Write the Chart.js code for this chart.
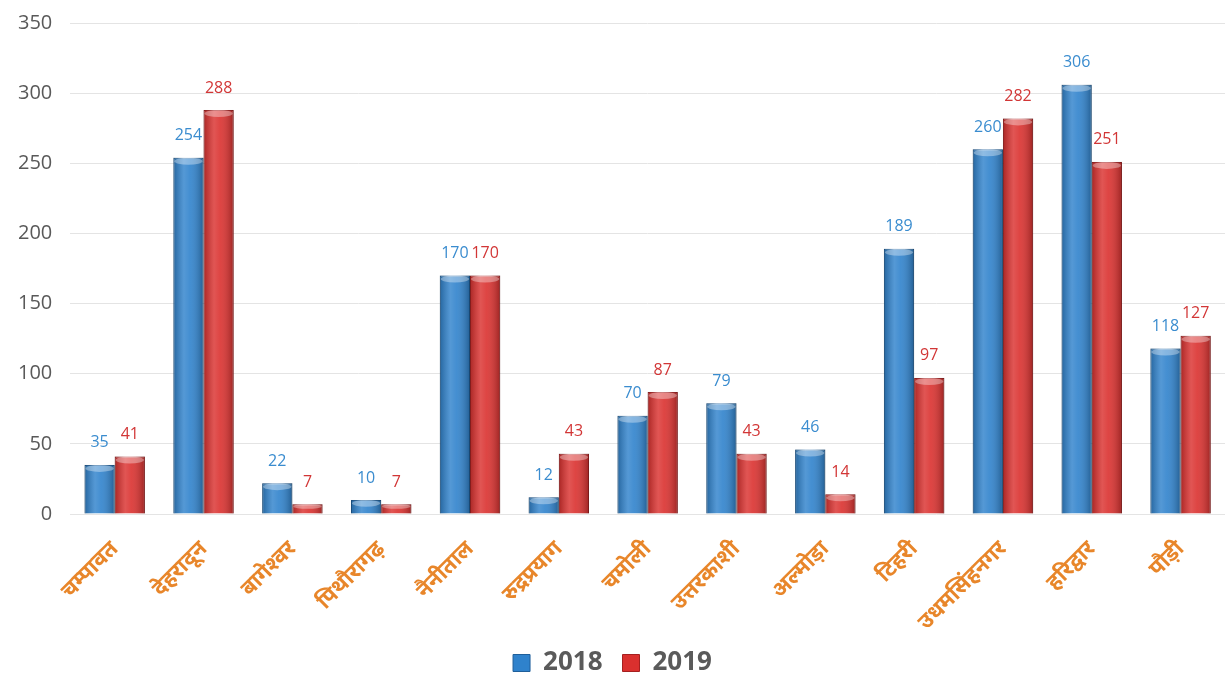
<!DOCTYPE html>
<html>
<head>
<meta charset="utf-8">
<script src="https://cdn.jsdelivr.net/npm/chart.js@4"></script>
<style>
  html, body { margin: 0; padding: 0; background: #fff; }
  #wrap { width: 1227px; height: 679px; }
</style>
</head>
<body>
<div id="wrap"><canvas id="districts"></canvas></div>
<script>
const districts = ['चम्पावत', 'देहरादून', 'बागेश्वर', 'पिथौरागढ़', 'नैनीताल', 'रुद्रप्रयाग', 'चमोली',
  'उत्तरकाशी', 'अल्मोड़ा', 'टिहरी', 'उधमसिंहनगर', 'हरिद्वार', 'पौड़ी'];
const values2018 = [35, 254, 22, 10, 170, 12, 70, 79, 46, 189, 260, 306, 118];
const values2019 = [41, 288, 7, 7, 170, 43, 87, 43, 14, 97, 282, 251, 127];
const yTicks = [0, 50, 100, 150, 200, 250, 300, 350];

const blue = '#2f82cc';
const red = '#da302e';

// glossy cylinder shading on top of every bar
const barShade = {
  id: 'barShade',
  afterDatasetsDraw(chart) {
    const ctx = chart.ctx;
    chart.data.datasets.forEach((ds, i) => {
      chart.getDatasetMeta(i).data.forEach(bar => {
        const { x, y, base, width } = bar.getProps(['x', 'y', 'base', 'width'], true);
        const left = x - width / 2;
        const g = ctx.createLinearGradient(left, 0, left + width, 0);
        g.addColorStop(0, 'rgba(0,0,0,0.22)');
        g.addColorStop(0.35, 'rgba(255,255,255,0.18)');
        g.addColorStop(0.55, 'rgba(255,255,255,0.10)');
        g.addColorStop(1, 'rgba(0,0,0,0.28)');
        ctx.save();
        ctx.fillStyle = g;
        ctx.fillRect(left, y, width, base - y);
        // top cap
        const cap = Math.min(7, (base - y) / 2);
        ctx.beginPath();
        ctx.ellipse(x, y + cap / 2, width / 2 - 1, cap / 2, 0, 0, Math.PI * 2);
        ctx.fillStyle = 'rgba(255,255,255,0.35)';
        ctx.fill();
        ctx.restore();
      });
    });
  }
};

// value labels above bars
const valueLabels = {
  id: 'valueLabels',
  afterDatasetsDraw(chart) {
    const ctx = chart.ctx;
    ctx.save();
    ctx.font = '16px "Open Sans", "Noto Sans", sans-serif';
    ctx.textAlign = 'center';
    ctx.textBaseline = 'bottom';
    chart.data.datasets.forEach((ds, i) => {
      ctx.fillStyle = ds.labelColor;
      chart.getDatasetMeta(i).data.forEach((bar, j) => {
        ctx.fillText(ds.data[j], bar.x, bar.y - 14);
      });
    });
    ctx.restore();
  }
};

new Chart(document.getElementById('districts'), {
  type: 'bar',
  data: {
    labels: districts,
    datasets: [{
      label: '2018',
      data: values2018,
      backgroundColor: blue,
      borderColor: '#1f5f9a',
      borderWidth: 1,
      labelColor: '#3a8ccf'
    }, {
      label: '2019',
      data: values2019,
      backgroundColor: red,
      borderColor: '#a52020',
      borderWidth: 1,
      labelColor: '#d23636'
    }]
  },
  options: {
    responsive: true,
    maintainAspectRatio: false,
    animation: false,
    layout: { padding: { left: 0, right: 2, top: 4, bottom: -7 } },
    datasets: { bar: { categoryPercentage: 0.68, barPercentage: 1 } },
    plugins: {
      legend: {
        position: 'bottom',
        labels: {
          boxWidth: 17,
          boxHeight: 17,
          padding: 20,
          color: '#5a5a5a',
          font: { size: 26, weight: 'bold', family: '"Open Sans", "Noto Sans", sans-serif' }
        }
      },
      tooltip: { enabled: false }
    },
    scales: {
      x: {
        grid: { display: false },
        border: { display: false },
        afterFit(axis) { axis.height = 116; },
        ticks: {
          color: '#e8862a',
          minRotation: 45,
          maxRotation: 45,
          padding: 14,
          font: { size: 22, weight: 'bold', family: '"Noto Sans", sans-serif' }
        }
      },
      y: {
        min: yTicks[0],
        max: yTicks[yTicks.length - 1],
        border: { display: false },
        grid: { color: '#e4e4e4', drawTicks: false },
        afterBuildTicks(axis) { axis.ticks = yTicks.map(v => ({ value: v })); },
        ticks: {
          color: '#595959',
          padding: 18,
          font: { size: 20, lineHeight: 0.5, family: '"Open Sans", "Noto Sans", sans-serif' }
        }
      }
    }
  },
  plugins: [barShade, valueLabels]
});
</script>
</body>
</html>
